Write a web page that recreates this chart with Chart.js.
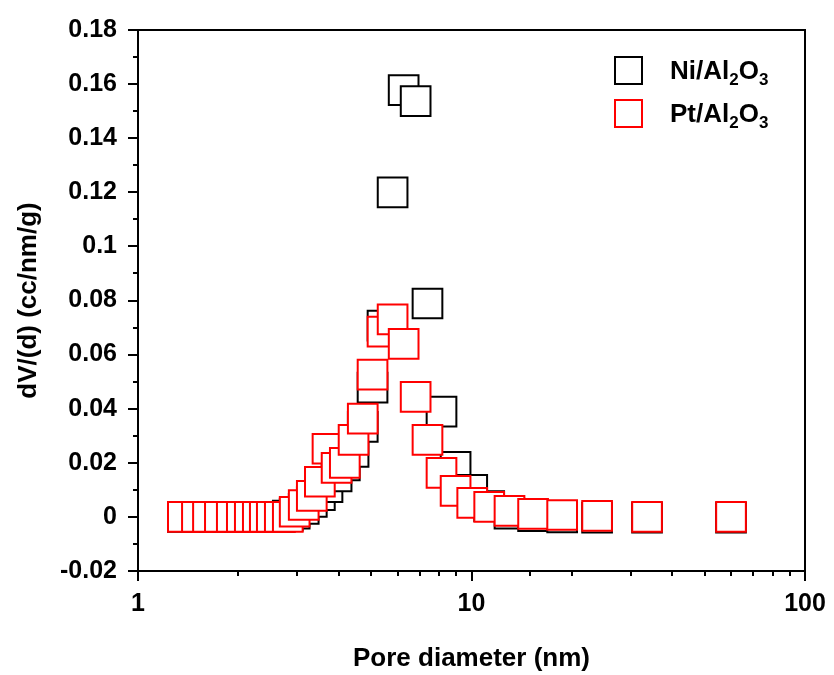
<!DOCTYPE html>
<html>
<head>
<meta charset="utf-8">
<script src="https://cdn.jsdelivr.net/npm/chart.js@4/dist/chart.umd.min.js"></script>
<style>
  body { margin: 0; background: #fff; }
</style>
</head>
<body>
<canvas id="chart_poros" width="834" height="675"></canvas>
<script>
// diametro de poro (nm) - mesmo para as duas amostras
var diametros = [1.363, 1.502, 1.621, 1.760, 1.911, 2.048, 2.164, 2.287, 2.400, 2.519, 2.662, 2.813,
  2.95, 3.14, 3.32, 3.51, 3.70, 3.94, 4.17, 4.43, 4.72,
  5.05, 5.41, 5.80, 6.26, 6.80, 7.38, 8.13, 8.96, 10.05,
  11.3, 13.0, 15.3, 18.7, 23.8, 33.6, 60.0];

// dV/(d) (cc/nm/g)
var ni_al2o3 = [0, 0, 0, 0, 0, 0, 0, 0, 0, 0, 0, 0.0005,
  0.0012, 0.003, 0.0055, 0.008, 0.011, 0.015, 0.019, 0.024, 0.0333,
  0.0478, 0.0707, 0.120, 0.1578, 0.1537, 0.0789, 0.0389, 0.0185, 0.010,
  0.004, 0.0012, 0.0003, -0.0002, -0.0003, -0.0003, -0.0003];

var pt_al2o3 = [0, 0, 0, 0, 0, 0, 0, 0, 0, 0, 0, 0,
  0.0019, 0.0044, 0.0078, 0.013, 0.0252, 0.0181, 0.020, 0.0285, 0.0363,
  0.0526, 0.0685, 0.073, 0.064, 0.0444, 0.0285, 0.0163, 0.0096, 0.0052,
  0.0037, 0.0022, 0.0011, 0.0007, 0.0004, 0, 0];

var nomes = ['Ni/Al2O3', 'Pt/Al2O3'];
var cores = ['#000000', '#ff0000'];
var ticksX = [1, 10, 100];
var ticksY = [-0.02, 0, 0.02, 0.04, 0.06, 0.08, 0.1, 0.12, 0.14, 0.16, 0.18];

var fonte = '"Liberation Sans", Arial, sans-serif';

function pontos(valores) {
  var lista = [];
  for (var i = 0; i < diametros.length; i++) {
    lista.push({ x: diametros[i], y: valores[i] });
  }
  return lista;
}

function ehMaiorY(v) {
  for (var i = 0; i < ticksY.length; i++) {
    if (Math.abs(ticksY[i] - v) < 1e-9) return true;
  }
  return false;
}

// ticks menores + moldura
const pluginEixos = {
  id: 'eixos',
  afterDraw(chart) {
    const ctx = chart.ctx;
    const area = chart.chartArea;
    const sx = chart.scales.x;
    const sy = chart.scales.y;
    ctx.save();
    ctx.strokeStyle = '#000';
    ctx.lineWidth = 2;
    sx.ticks.forEach(function (t) {
      const px = Math.round(sx.getPixelForValue(t.value));
      const tam = ticksX.indexOf(t.value) >= 0 ? 10 : 5;
      ctx.beginPath();
      ctx.moveTo(px, area.bottom);
      ctx.lineTo(px, area.bottom + tam);
      ctx.stroke();
    });
    sy.ticks.forEach(function (t) {
      const py = Math.round(sy.getPixelForValue(t.value));
      const tam = ehMaiorY(t.value) ? 10 : 5;
      ctx.beginPath();
      ctx.moveTo(area.left, py);
      ctx.lineTo(area.left - tam, py);
      ctx.stroke();
    });
    ctx.strokeRect(area.left, area.top, area.right - area.left, area.bottom - area.top);
    ctx.restore();
  }
};

// legenda com subscritos
const pluginLegenda = {
  id: 'legendaSub',
  afterDraw(chart) {
    const ctx = chart.ctx;
    ctx.save();
    chart.data.datasets.forEach(function (ds, i) {
      const cy = 70 + i * 43;
      ctx.strokeStyle = ds.borderColor;
      ctx.lineWidth = 2;
      ctx.fillStyle = '#fff';
      ctx.fillRect(615, cy - 13, 27, 27);
      ctx.strokeRect(615, cy - 13, 27, 27);
      let x = 670;
      ctx.fillStyle = '#000';
      ctx.textBaseline = 'alphabetic';
      const partes = ds.label.split(/(\d)/);
      partes.forEach(function (p) {
        if (p === '') return;
        if (/^\d$/.test(p)) {
          ctx.font = 'bold 17px ' + fonte;
          ctx.fillText(p, x, cy + 15);
        } else {
          ctx.font = 'bold 26px ' + fonte;
          ctx.fillText(p, x, cy + 9);
        }
        x += ctx.measureText(p).width;
      });
    });
    ctx.restore();
  }
};

const config = {
  type: 'scatter',
  data: {
    datasets: [{
      label: nomes[0],
      data: pontos(ni_al2o3),
      borderColor: cores[0],
      backgroundColor: '#ffffff',
      pointStyle: 'rect',
      pointRadius: 21,
      pointHoverRadius: 21,
      borderWidth: 2,
      order: 2
    }, {
      label: nomes[1],
      data: pontos(pt_al2o3),
      borderColor: cores[1],
      backgroundColor: '#ffffff',
      pointStyle: 'rect',
      pointRadius: 21,
      pointHoverRadius: 21,
      borderWidth: 2,
      order: 1
    }]
  },
  options: {
    responsive: false,
    animation: false,
    events: [],
    layout: { padding: { left: 0, top: 30, right: 29, bottom: 0 } },
    plugins: {
      legend: { display: false },
      tooltip: { enabled: false }
    },
    scales: {
      x: {
        type: 'logarithmic',
        min: 1,
        max: 100,
        afterFit: function (s) { s.height = 104; },
        border: { display: false },
        grid: { drawOnChartArea: false, tickLength: 10, tickColor: 'transparent' },
        ticks: {
          autoSkip: false,
          maxRotation: 0,
          padding: 8,
          color: '#000',
          font: { family: fonte, size: 25, weight: 'bold' },
          callback: function (v) { return ticksX.indexOf(v) >= 0 ? String(v) : ''; }
        },
        title: {
          display: true,
          text: 'Pore diameter (nm)',
          color: '#000',
          font: { family: fonte, size: 26, weight: 'bold' },
          padding: { top: 0, bottom: 1 }
        }
      },
      y: {
        min: -0.02,
        max: 0.18,
        afterFit: function (s) { s.width = 138; },
        border: { display: false },
        grid: { drawOnChartArea: false, tickLength: 12, tickColor: 'transparent' },
        ticks: {
          stepSize: 0.01,
          autoSkip: false,
          padding: 9,
          color: '#000',
          font: { family: fonte, size: 25, weight: 'bold' },
          callback: function (v) {
            return ehMaiorY(v) ? String(parseFloat(v.toFixed(2))) : '';
          }
        },
        title: {
          display: true,
          text: 'dV/(d) (cc/nm/g)',
          color: '#000',
          font: { family: fonte, size: 26, weight: 'bold' },
          padding: { top: 13, bottom: 0 }
        }
      }
    }
  },
  plugins: [pluginEixos, pluginLegenda]
};

let chart_poros = new Chart(document.getElementById('chart_poros'), config);
</script>
</body>
</html>
